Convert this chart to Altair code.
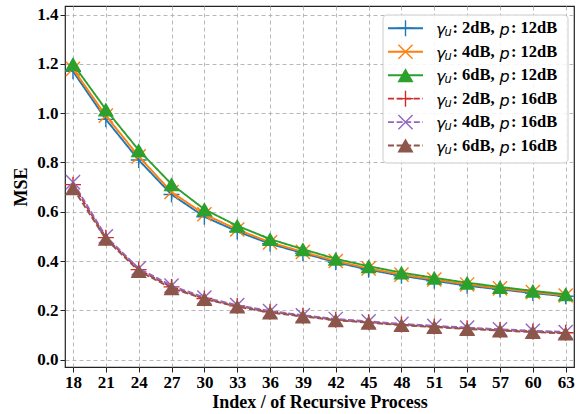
import altair as alt
import pandas as pd

# ---------------- data ----------------
index = [18, 21, 24, 27, 30, 33, 36, 39, 42, 45, 48, 51, 54, 57, 60, 63]

gamma_labels = ["2dB", "4dB", "6dB", "2dB", "4dB", "6dB"]
p_labels = ["12dB", "12dB", "12dB", "16dB", "16dB", "16dB"]

mse_g2_p12 = [1.17, 0.975, 0.81, 0.67, 0.58, 0.52, 0.47, 0.432, 0.395, 0.365, 0.34, 0.32, 0.30, 0.285, 0.27, 0.257]
mse_g4_p12 = [1.18, 0.99, 0.825, 0.68, 0.59, 0.528, 0.476, 0.437, 0.40, 0.37, 0.345, 0.325, 0.305, 0.289, 0.274, 0.26]
mse_g6_p12 = [1.20, 1.015, 0.85, 0.712, 0.61, 0.543, 0.489, 0.448, 0.409, 0.379, 0.353, 0.332, 0.312, 0.295, 0.279, 0.265]
mse_g2_p16 = [0.71, 0.495, 0.365, 0.295, 0.248, 0.218, 0.194, 0.178, 0.162, 0.152, 0.142, 0.134, 0.127, 0.12, 0.114, 0.109]
mse_g4_p16 = [0.72, 0.50, 0.37, 0.30, 0.252, 0.221, 0.197, 0.18, 0.165, 0.155, 0.145, 0.137, 0.13, 0.123, 0.117, 0.112]
mse_g6_p16 = [0.695, 0.49, 0.36, 0.29, 0.246, 0.215, 0.191, 0.175, 0.16, 0.15, 0.14, 0.132, 0.124, 0.118, 0.112, 0.106]

series_values = [mse_g2_p12, mse_g4_p12, mse_g6_p12, mse_g2_p16, mse_g4_p16, mse_g6_p16]

x_ticks = index
y_ticks = [0.0, 0.2, 0.4, 0.6, 0.8, 1.0, 1.2, 1.4]

# ---------------- style ----------------
colors = ["#1f77b4", "#ff7f0e", "#2ca02c", "#d62728", "#9467bd", "#8c564b"]
PLUS = "M-1,0L1,0M0,-1L0,1"
XSH = "M-1,-1L1,1M-1,1L1,-1"
shapes = [PLUS, XSH, "triangle-up", PLUS, XSH, "triangle-up"]
filled = [False, False, True, False, False, True]
sizes = [256, 200, 260, 256, 200, 260]
dashes = [[1, 0], [1, 0], [1, 0], [6, 2.6], [6, 2.6], [6, 2.6]]

SERIF = "Liberation Serif"
MATH = "DejaVu Sans"

xscale = alt.Scale(domain=[17.27, 63.76], nice=False, zero=False)
yscale = alt.Scale(domain=[-0.03, 1.435], nice=False, zero=False)
xaxis = alt.Axis(values=x_ticks, title="Index / of Recursive Process", format="d")
yaxis = alt.Axis(values=y_ticks, title="MSE", format=".1f")

layers = []
for i, vals in enumerate(series_values):
    df = pd.DataFrame({"idx": index, "mse": vals})
    base = alt.Chart(df).encode(
        x=alt.X("idx:Q", scale=xscale, axis=xaxis),
        y=alt.Y("mse:Q", scale=yscale, axis=yaxis),
    )
    line = base.mark_line(color=colors[i], strokeWidth=1.9, strokeDash=dashes[i])
    pt = base.mark_point(
        shape=shapes[i], filled=filled[i], color=colors[i], size=sizes[i],
        strokeWidth=1.4 if not filled[i] else 0, opacity=1,
    )
    layers += [line, pt]

# ---------------- legend (decoration) ----------------
leg_df = pd.DataFrame({"k": [0]})
box = alt.Chart(leg_df).mark_rect(
    fill="white", fillOpacity=0.85, stroke="#cccccc", strokeWidth=1, cornerRadius=4
).encode(x=alt.value(318), x2=alt.value(503), y=alt.value(9), y2=alt.value(157))
layers.append(box)

for i in range(6):
    yp = 22.3 + i * 23.45
    layers.append(
        alt.Chart(leg_df).mark_rule(color=colors[i], strokeWidth=1.9, strokeDash=dashes[i])
        .encode(x=alt.value(323), x2=alt.value(358), y=alt.value(yp))
    )
    layers.append(
        alt.Chart(leg_df).mark_point(
            shape=shapes[i], filled=filled[i], color=colors[i], size=sizes[i],
            strokeWidth=1.4 if not filled[i] else 0, opacity=1,
        ).encode(x=alt.value(340.5), y=alt.value(yp))
    )
    segs = [
        ("γ", 371, MATH, "italic", "normal", 16, 2),
        ("u", 379.5, MATH, "italic", "normal", 11.5, 5),
        (": " + gamma_labels[i] + ",", 387.5, SERIF, "normal", "bold", 16.5, 0),
        ("p", 434.5, MATH, "italic", "normal", 16, 2),
        (": " + p_labels[i], 446, SERIF, "normal", "bold", 16.5, 0),
    ]
    for txt, xp, fnt, sty, wt, fs, dy in segs:
        layers.append(
            alt.Chart(leg_df).mark_text(
                text=txt, align="left", baseline="middle", font=fnt, fontStyle=sty,
                fontWeight=wt, fontSize=fs, color="black", dy=dy,
            ).encode(x=alt.value(xp), y=alt.value(yp))
        )

chart = (
    alt.layer(*layers)
    .properties(
        width=509, height=361, autosize="none",
        padding={"left": 65, "top": 6, "right": 6, "bottom": 47},
        background="white",
    )
    .configure_view(stroke="#222222", strokeWidth=1.2)
    .configure_axis(
        labelFont=SERIF, labelFontWeight="bold", labelFontSize=17, labelColor="black",
        titleFont=SERIF, titleFontWeight="bold", titleFontSize=18, titleColor="black",
        grid=True, gridColor="#b0b0b0", gridDash=[4, 3], gridWidth=0.9,
        tickColor="#222222", tickSize=5, tickWidth=1, domain=False, labelPadding=2,
    )
    .configure_axisX(titlePadding=3)
    .configure_axisY(titlePadding=6)
)

chart.save("out.html", embed_options={"renderer": "svg", "actions": False})
